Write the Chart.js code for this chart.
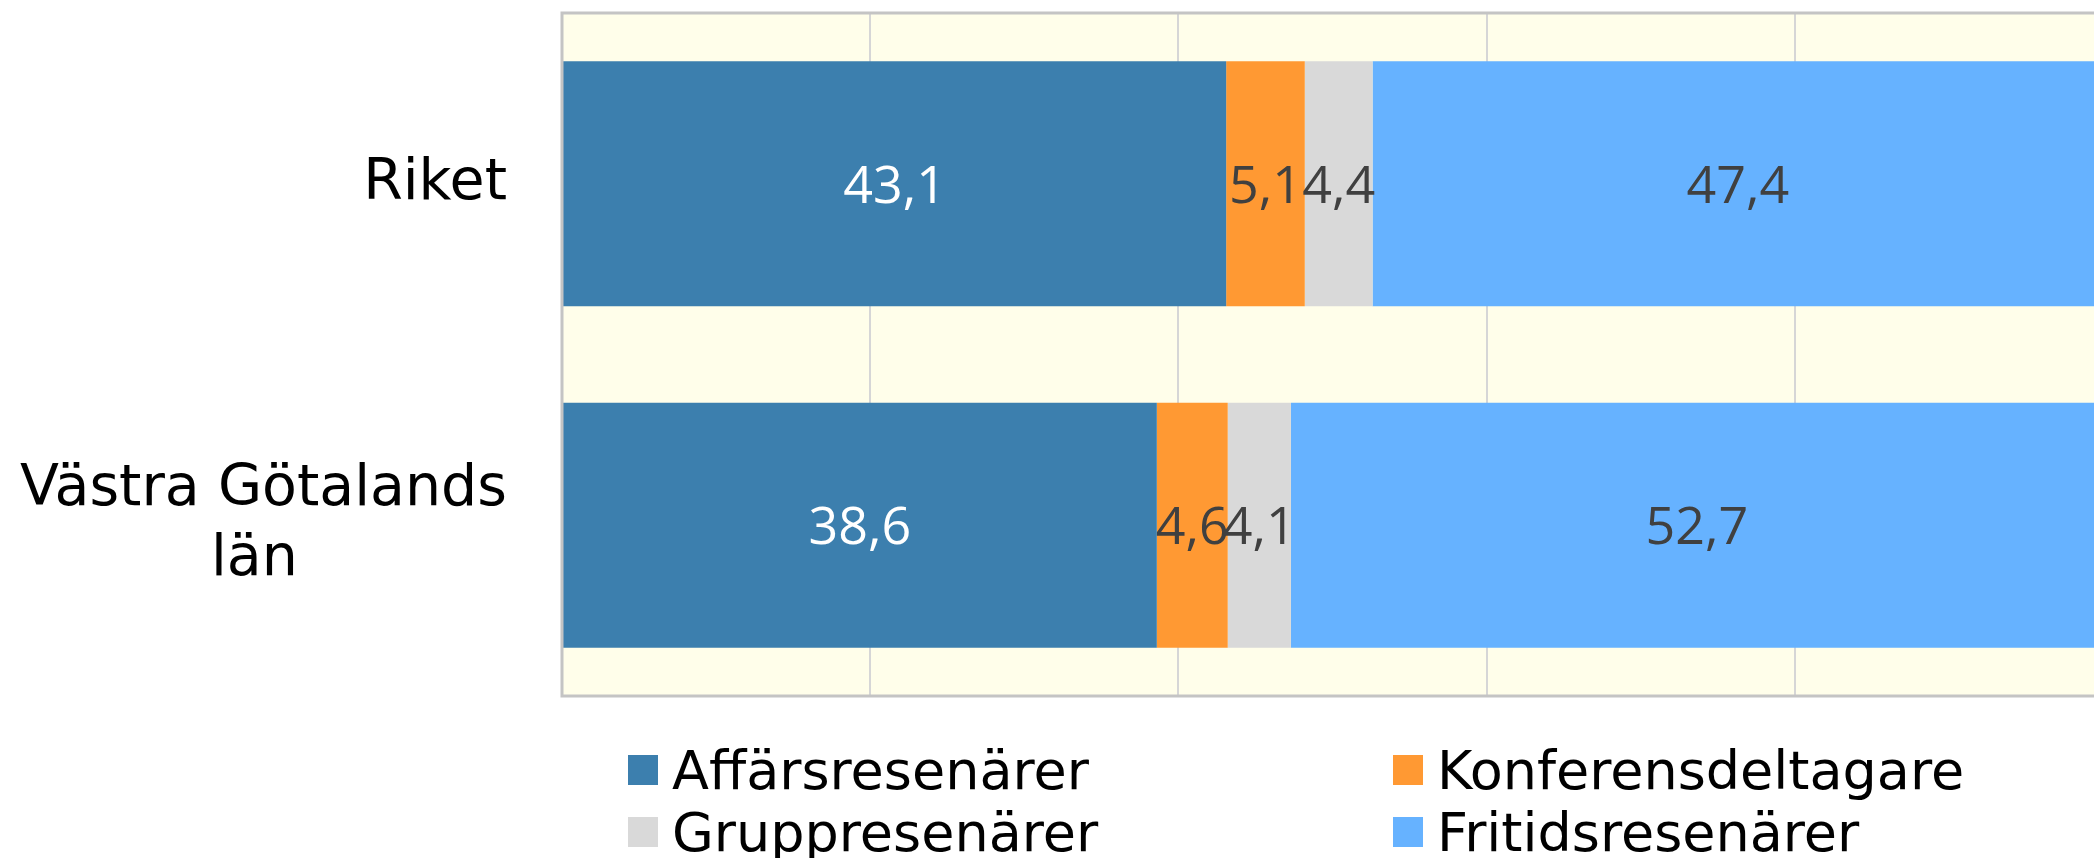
<!DOCTYPE html>
<html>
<head>
<meta charset="utf-8">
<script src="https://cdn.jsdelivr.net/npm/chart.js@4.4.1/dist/chart.umd.min.js"></script>
<style>
    html, body { margin: 0; padding: 0; background: #fff; overflow: hidden; width: 2094px; height: 858px; }
    #wrap { position: absolute; left: 0; top: 0; width: 2106px; height: 700px; }
    #legend { position: absolute; left: 628px; top: 739px; display: grid; grid-template-columns: 765px auto; grid-auto-rows: 62px; font-family: "DejaVu Sans", sans-serif; font-size: 54px; color: #000; }
    #legend .item { display: flex; align-items: center; white-space: nowrap; }
    #legend .box { width: 30px; height: 30px; margin-right: 14px; flex: none; }
</style>
</head>
<body>
<div id="wrap"><canvas id="chart" width="2106" height="700"></canvas></div>
<div id="legend"></div>
<script>
const categories = [['Riket'], ['Västra Götalands', 'län']];
const seriesNames = ['Affärsresenärer', 'Konferensdeltagare', 'Gruppresenärer', 'Fritidsresenärer'];
const affars = [43.1, 38.6];
const konferens = [5.1, 4.6];
const grupp = [4.4, 4.1];
const fritid = [47.4, 52.7];
const xTicks = [0, 20, 40, 60, 80, 100];

const colors = ['#3c7fae', '#ff9933', '#d9d9d9', '#66b2ff'];
const labelColors = ['#ffffff', '#404040', '#404040', '#404040'];

// cream plot background + grey frame
const plotFrame = {
    id: 'plotFrame',
    beforeDraw(chart) {
        const a = chart.chartArea, ctx = chart.ctx;
        ctx.save();
        ctx.fillStyle = '#fffeea';
        ctx.fillRect(a.left, a.top, a.right - a.left, a.bottom - a.top);
        ctx.restore();
    },
    afterDatasetsDraw(chart) {
        const a = chart.chartArea, ctx = chart.ctx;
        ctx.save();
        ctx.strokeStyle = '#c4c4c4';
        ctx.lineWidth = 3;
        ctx.strokeRect(a.left, a.top, a.right - a.left, a.bottom - a.top);
        ctx.restore();
    }
};

// values inside each segment
const segmentLabels = {
    id: 'segmentLabels',
    afterDatasetsDraw(chart) {
        const ctx = chart.ctx;
        ctx.save();
        ctx.font = '52px "Open Sans", sans-serif';
        ctx.textAlign = 'center';
        ctx.textBaseline = 'middle';
        chart.data.datasets.forEach((ds, i) => {
            chart.getDatasetMeta(i).data.forEach((bar, j) => {
                ctx.fillStyle = labelColors[i];
                ctx.fillText(ds.data[j].toFixed(1).replace('.', ','), (bar.x + bar.base) / 2, bar.y + 4);
            });
        });
        ctx.restore();
    }
};

// category names: block right aligned, wrapped lines centred
const categoryLabels = {
    id: 'categoryLabels',
    afterDraw(chart) {
        const ctx = chart.ctx, y = chart.scales.y;
        const right = 507, lh = 70;
        ctx.save();
        ctx.font = '57px "DejaVu Sans", sans-serif';
        ctx.fillStyle = '#000';
        ctx.textAlign = 'center';
        ctx.textBaseline = 'middle';
        categories.forEach((lines, i) => {
            const w = Math.max(...lines.map(l => ctx.measureText(l).width));
            const cy = y.getPixelForValue(i);
            lines.forEach((l, k) => {
                // wrapped last line keeps its trailing space, like the source
                const txt = (lines.length > 1 && k === lines.length - 1) ? l + ' ' : l;
                ctx.fillText(txt, right - w / 2, cy + (k - (lines.length - 1) / 2) * lh);
            });
        });
        ctx.restore();
    }
};

const series = [affars, konferens, grupp, fritid];

new Chart(document.getElementById('chart'), {
    type: 'bar',
    data: {
        labels: categories.map(c => c.join(' ')),
        datasets: series.map((d, i) => ({
            label: seriesNames[i],
            data: d,
            backgroundColor: colors[i],
            borderWidth: 0,
            categoryPercentage: 1,
            barPercentage: 0.717
        }))
    },
    options: {
        indexAxis: 'y',
        responsive: false,
        animation: false,
        layout: { padding: { top: 13, bottom: 4, left: 0, right: 3 } },
        plugins: { legend: { display: false }, tooltip: { enabled: false } },
        scales: {
            x: {
                stacked: true,
                min: 0,
                max: 100,
                afterBuildTicks(scale) { scale.ticks = xTicks.map(v => ({ value: v })); },
                ticks: { display: false },
                grid: { color: '#d6d6d6', lineWidth: 2, drawTicks: false },
                border: { display: false },
                afterFit(scale) { scale.height = 0; }
            },
            y: {
                stacked: true,
                ticks: { display: false },
                grid: { display: false },
                border: { display: false },
                afterFit(scale) { scale.width = 562; }
            }
        }
    },
    plugins: [plotFrame, segmentLabels, categoryLabels]
});

const legend = document.getElementById('legend');
seriesNames.forEach((name, i) => {
    const item = document.createElement('div');
    item.className = 'item';
    item.innerHTML = '<span class="box" style="background:' + colors[i] + '"></span><span>' + name + '</span>';
    legend.appendChild(item);
});
</script>
</body>
</html>
